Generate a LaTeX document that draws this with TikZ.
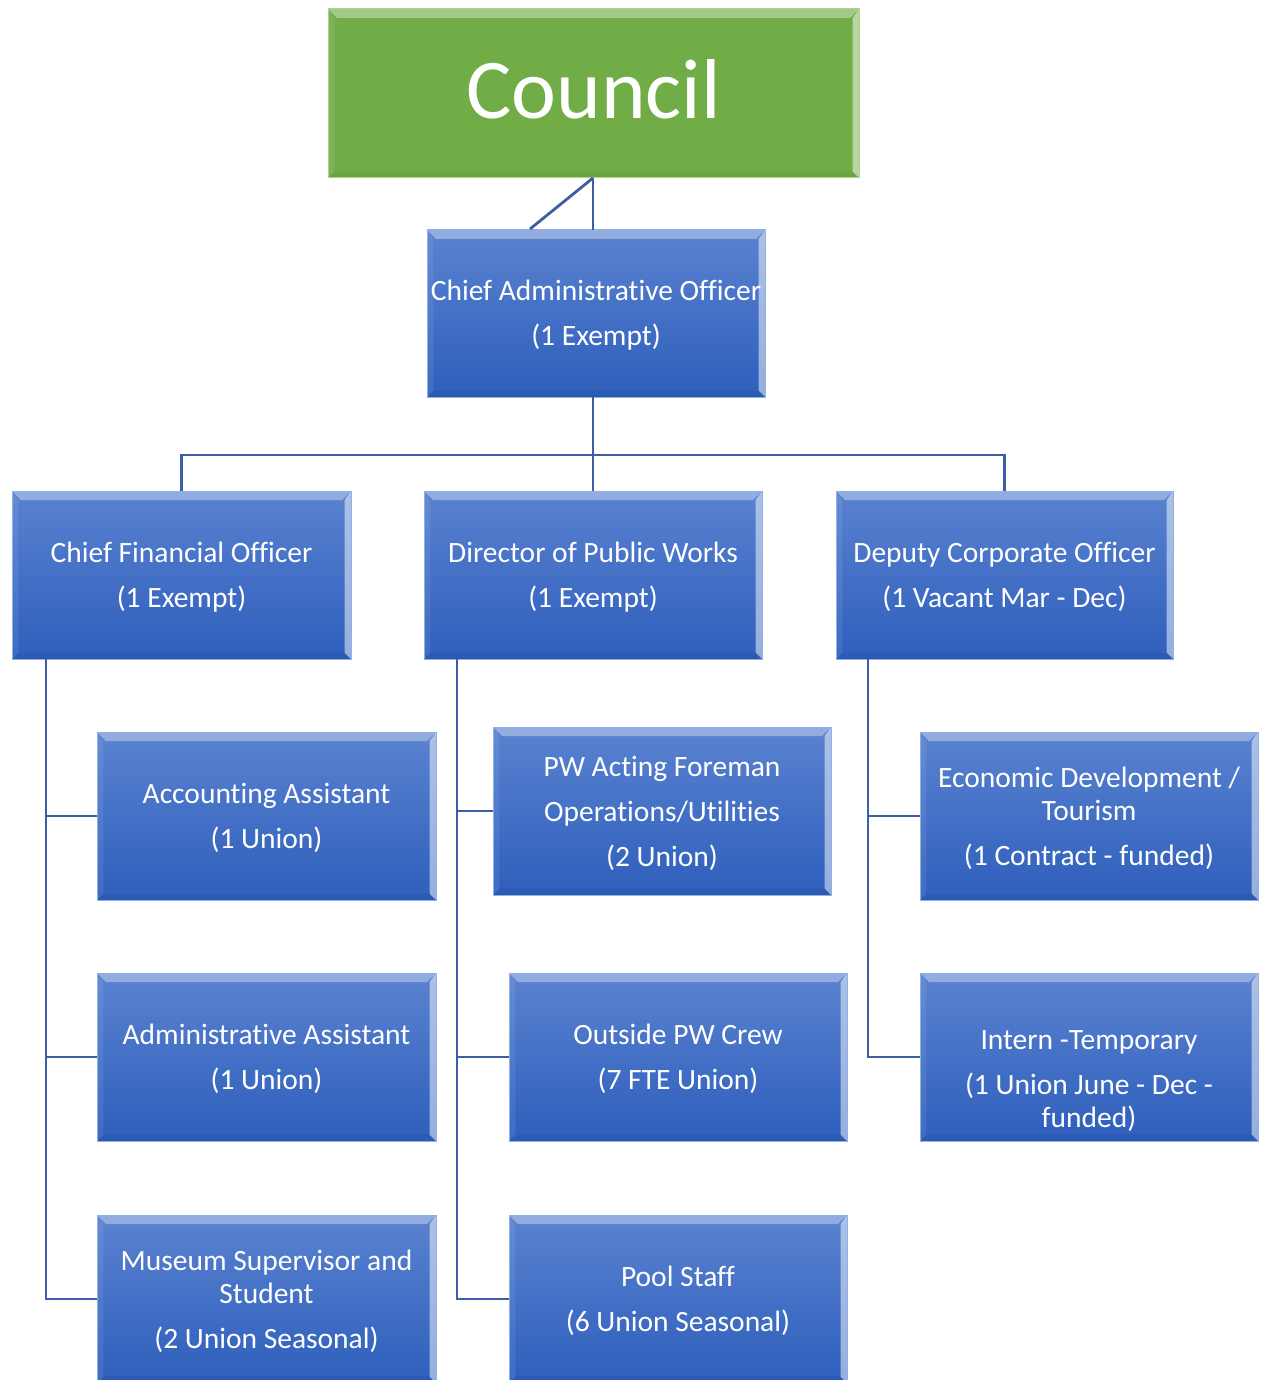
\documentclass[tikz,border=0pt]{standalone}
\usepackage{fontspec}
\setmainfont[Ligatures=NoCommon]{Carlito}
\usetikzlibrary{calc}
\definecolor{btop}{HTML}{5A82D0}
\definecolor{bbot}{HTML}{2E5FBC}
\definecolor{bedge}{HTML}{8FB0E6}
\definecolor{lnc}{HTML}{3D5EA6}
\definecolor{gfill}{HTML}{70AD47}
\definecolor{gedge}{HTML}{A9D48A}
\tikzset{
  bevel/.style={path picture={
    \fill[white,opacity=.35] (path picture bounding box.north west) -- (path picture bounding box.north east)
      -- ([shift={(-#1,-#1)}]path picture bounding box.north east) -- ([shift={(#1,-#1)}]path picture bounding box.north west) -- cycle;
    \fill[white,opacity=.5] (path picture bounding box.north east) -- (path picture bounding box.south east)
      -- ([shift={(-#1*0.7,#1*0.7)}]path picture bounding box.south east) -- ([shift={(-#1*0.7,-#1)}]path picture bounding box.north east) -- cycle;
    \fill[black,opacity=.05] (path picture bounding box.south west) -- (path picture bounding box.south east)
      -- ([shift={(-#1*0.7,#1*0.7)}]path picture bounding box.south east) -- ([shift={(#1*0.7,#1*0.7)}]path picture bounding box.south west) -- cycle;
    \fill[white,opacity=.08] (path picture bounding box.north west) -- (path picture bounding box.south west)
      -- ([shift={(#1*0.7,#1*0.7)}]path picture bounding box.south west) -- ([shift={(#1*0.7,-#1)}]path picture bounding box.north west) -- cycle;
  }},
  bluebox/.style={rectangle, inner sep=0pt, outer sep=0pt, top color=btop, bottom color=bbot,
    draw=bedge, line width=1pt, minimum width=339pt, minimum height=168pt, bevel=9pt},
  greenbox/.style={rectangle, inner sep=0pt, outer sep=0pt, fill=gfill, draw=gedge, line width=1pt,
    minimum width=531pt, minimum height=169pt, bevel=9pt},
  btext/.style={text=white, align=center, font=\fontsize{29.5}{33}\selectfont, inner sep=0pt},
  conn/.style={draw=lnc, line width=2.8pt}
}
\begin{document}
\begin{tikzpicture}[x=1pt,y=-1pt]
\useasboundingbox (0,0) rectangle (1263,1380);
\clip (0,0) rectangle (1263,1380);
\fill[white] (0,0) rectangle (1263,1380);

\coordinate (diag) at (530,229);
\node[greenbox] (council) at (593.5,93.5) {};
\node[bluebox, minimum width=338pt, minimum height=167pt] (cao) at (596,313.5) {};
\node[bluebox] (cfo) at (181.5,575) {};
\node[bluebox, minimum width=338pt] (dpw) at (593,575) {};
\node[bluebox, minimum width=337pt] (dco) at (1004.5,575) {};
\node[bluebox] (acc) at (266.5,816) {};
\node[bluebox] (adm) at (266.5,1057) {};
\node[bluebox] (mus) at (266.5,1299) {};
\node[bluebox, minimum width=338pt] (pwf) at (662,811) {};
\node[bluebox, minimum width=338pt] (out) at (678,1057) {};
\node[bluebox, minimum width=338pt] (pool) at (678,1299) {};
\node[bluebox, minimum width=338pt] (eco) at (1089,816) {};
\node[bluebox, minimum width=338pt] (int) at (1089,1057) {};

% texts
\node[text=white, font=\fontsize{85}{90}\selectfont, inner sep=0pt] (council-t) at ([yshift=4pt]council.center) {Council};
\node[btext] (cao-t) at ([yshift=-2pt]cao.center) {Chief Administrative Officer\\[12pt](1 Exempt)};
\node[btext] (cfo-t) at ([yshift=-2pt]cfo.center) {Chief Financial Officer\\[12pt](1 Exempt)};
\node[btext] (dpw-t) at ([yshift=-2pt]dpw.center) {Director of Public Works\\[12pt](1 Exempt)};
\node[btext] (dco-t) at ([yshift=-2pt]dco.center) {Deputy Corporate Officer\\[12pt](1 Vacant Mar - Dec)};
\node[btext] (acc-t) at ([yshift=-2pt]acc.center) {Accounting Assistant\\[12pt](1 Union)};
\node[btext] (adm-t) at ([yshift=-2pt]adm.center) {Administrative Assistant\\[12pt](1 Union)};
\node[btext] (mus-t) at ([yshift=-2pt]mus.center) {Museum Supervisor and\\Student\\[12pt](2 Union Seasonal)};
\node[btext] (pwf-t) at ([yshift=-2pt]pwf.center) {PW Acting Foreman\\[12pt]Operations/Utilities\\[12pt](2 Union)};
\node[btext] (out-t) at ([yshift=-2pt]out.center) {Outside PW Crew\\[12pt](7 FTE Union)};
\node[btext] (pool-t) at ([yshift=-2pt]pool.center) {Pool Staff\\[12pt](6 Union Seasonal)};
\node[btext] (eco-t) at ([yshift=-2pt]eco.center) {Economic Development /\\Tourism\\[12pt](1 Contract - funded)};
\node[btext] (int-t) at ([yshift=-24pt]int.center) {Intern -Temporary\\[12pt](1 Union June - Dec -\\funded)};

% connectors
\draw[conn] (council.south -| 593,0) -- (593,0 |- cao.north);
\draw[conn] (diag) -- (council.south -| 593,0);
\draw[conn] (593,0 |- cao.south) -- (593,455) -| (cfo.north);
\draw[conn] (593,455) -| (dco.north);
\draw[conn] (593,0 |- cao.south) -- (dpw.north);
\draw[conn] ([xshift=34pt]cfo.south west) |- (acc.west);
\draw[conn] ([xshift=34pt]cfo.south west) |- (adm.west);
\draw[conn] ([xshift=34pt]cfo.south west) |- (mus.west);
\draw[conn] ([xshift=33pt]dpw.south west) |- (pwf.west);
\draw[conn] ([xshift=33pt]dpw.south west) |- (out.west);
\draw[conn] ([xshift=33pt]dpw.south west) |- (pool.west);
\draw[conn] ([xshift=32pt]dco.south west) |- (eco.west);
\draw[conn] ([xshift=32pt]dco.south west) |- (int.west);
\end{tikzpicture}
\end{document}
